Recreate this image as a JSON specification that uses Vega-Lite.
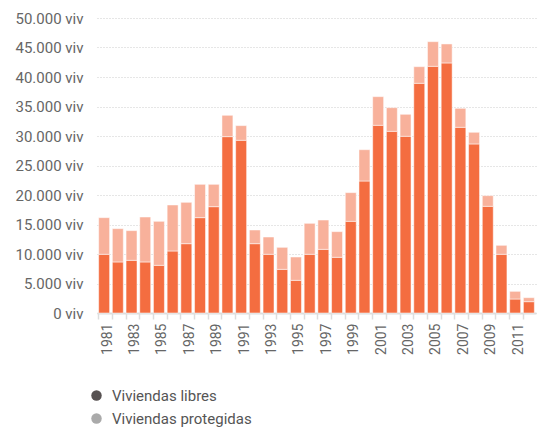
{
  "$schema": "https://vega.github.io/schema/vega-lite/v6.json",
  "width": 439,
  "height": 295,
  "autosize": {"type": "none"},
  "padding": {"left": 97, "top": 18, "right": 3, "bottom": 119},
  "config": {
    "font": "Roboto",
    "view": {"stroke": null},
    "background": "white"
  },
  "title": {
    "text": "Fuente: Ministerio de Fomento e INE",
    "orient": "bottom",
    "anchor": "start",
    "frame": "group",
    "dx": 193,
    "offset": 93,
    "fontSize": 15,
    "fontWeight": "normal",
    "color": "#666666",
    "baseline": "top"
  },
  "data": {
    "values": [
      {"year": "1981", "tipo": "Viviendas libres", "viv": 9950},
      {"year": "1982", "tipo": "Viviendas libres", "viv": 8650},
      {"year": "1983", "tipo": "Viviendas libres", "viv": 8930},
      {"year": "1984", "tipo": "Viviendas libres", "viv": 8650},
      {"year": "1985", "tipo": "Viviendas libres", "viv": 8080},
      {"year": "1986", "tipo": "Viviendas libres", "viv": 10510},
      {"year": "1987", "tipo": "Viviendas libres", "viv": 11750},
      {"year": "1988", "tipo": "Viviendas libres", "viv": 16160},
      {"year": "1989", "tipo": "Viviendas libres", "viv": 18020},
      {"year": "1990", "tipo": "Viviendas libres", "viv": 29890},
      {"year": "1991", "tipo": "Viviendas libres", "viv": 29270},
      {"year": "1992", "tipo": "Viviendas libres", "viv": 11750},
      {"year": "1993", "tipo": "Viviendas libres", "viv": 9950},
      {"year": "1994", "tipo": "Viviendas libres", "viv": 7400},
      {"year": "1995", "tipo": "Viviendas libres", "viv": 5540},
      {"year": "1996", "tipo": "Viviendas libres", "viv": 9950},
      {"year": "1997", "tipo": "Viviendas libres", "viv": 10790},
      {"year": "1998", "tipo": "Viviendas libres", "viv": 9440},
      {"year": "1999", "tipo": "Viviendas libres", "viv": 15540},
      {"year": "2000", "tipo": "Viviendas libres", "viv": 22370},
      {"year": "2001", "tipo": "Viviendas libres", "viv": 31810},
      {"year": "2002", "tipo": "Viviendas libres", "viv": 30790},
      {"year": "2003", "tipo": "Viviendas libres", "viv": 29950},
      {"year": "2004", "tipo": "Viviendas libres", "viv": 38930},
      {"year": "2005", "tipo": "Viviendas libres", "viv": 41810},
      {"year": "2006", "tipo": "Viviendas libres", "viv": 42380},
      {"year": "2007", "tipo": "Viviendas libres", "viv": 31470},
      {"year": "2008", "tipo": "Viviendas libres", "viv": 28650},
      {"year": "2009", "tipo": "Viviendas libres", "viv": 18080},
      {"year": "2010", "tipo": "Viviendas libres", "viv": 9950},
      {"year": "2011", "tipo": "Viviendas libres", "viv": 2370},
      {"year": "2012", "tipo": "Viviendas libres", "viv": 1920},
      {"year": "1981", "tipo": "Viviendas protegidas", "viv": 6210},
      {"year": "1982", "tipo": "Viviendas protegidas", "viv": 5650},
      {"year": "1983", "tipo": "Viviendas protegidas", "viv": 5030},
      {"year": "1984", "tipo": "Viviendas protegidas", "viv": 7620},
      {"year": "1985", "tipo": "Viviendas protegidas", "viv": 7460},
      {"year": "1986", "tipo": "Viviendas protegidas", "viv": 7800},
      {"year": "1987", "tipo": "Viviendas protegidas", "viv": 7010},
      {"year": "1988", "tipo": "Viviendas protegidas", "viv": 5650},
      {"year": "1989", "tipo": "Viviendas protegidas", "viv": 3790},
      {"year": "1990", "tipo": "Viviendas protegidas", "viv": 3620},
      {"year": "1991", "tipo": "Viviendas protegidas", "viv": 2490},
      {"year": "1992", "tipo": "Viviendas protegidas", "viv": 2320},
      {"year": "1993", "tipo": "Viviendas protegidas", "viv": 2930},
      {"year": "1994", "tipo": "Viviendas protegidas", "viv": 3730},
      {"year": "1995", "tipo": "Viviendas protegidas", "viv": 3950},
      {"year": "1996", "tipo": "Viviendas protegidas", "viv": 5250},
      {"year": "1997", "tipo": "Viviendas protegidas", "viv": 4970},
      {"year": "1998", "tipo": "Viviendas protegidas", "viv": 4350},
      {"year": "1999", "tipo": "Viviendas protegidas", "viv": 4860},
      {"year": "2000", "tipo": "Viviendas protegidas", "viv": 5310},
      {"year": "2001", "tipo": "Viviendas protegidas", "viv": 4860},
      {"year": "2002", "tipo": "Viviendas protegidas", "viv": 4010},
      {"year": "2003", "tipo": "Viviendas protegidas", "viv": 3730},
      {"year": "2004", "tipo": "Viviendas protegidas", "viv": 2820},
      {"year": "2005", "tipo": "Viviendas protegidas", "viv": 4180},
      {"year": "2006", "tipo": "Viviendas protegidas", "viv": 3220},
      {"year": "2007", "tipo": "Viviendas protegidas", "viv": 3220},
      {"year": "2008", "tipo": "Viviendas protegidas", "viv": 1980},
      {"year": "2009", "tipo": "Viviendas protegidas", "viv": 1810},
      {"year": "2010", "tipo": "Viviendas protegidas", "viv": 1520},
      {"year": "2011", "tipo": "Viviendas protegidas", "viv": 1300},
      {"year": "2012", "tipo": "Viviendas protegidas", "viv": 680}
    ]
  },
  "resolve": {"scale": {"color": "independent"}},
  "encoding": {
    "x": {
      "field": "year",
      "type": "ordinal",
      "scale": {"paddingInner": 0.2, "paddingOuter": 0.12},
      "axis": {
        "title": null,
        "labelAngle": -90,
        "labelFontSize": 14,
        "labelColor": "#666666",
        "labelExpr": "parseInt(datum.value) % 2 == 1 ? datum.value : ''",
        "bandPosition": 0,
        "labelOffset": 3.5,
        "tickColor": "#dddddd",
        "tickSize": 6,
        "tickWidth": 1.5,
        "domainColor": "#dddddd",
        "domainWidth": 2,
        "labelPadding": 4,
        "labelBound": false,
        "labelOverlap": false
      }
    },
    "y": {
      "field": "viv",
      "type": "quantitative",
      "aggregate": "sum",
      "scale": {"domain": [0, 50000], "nice": false},
      "axis": {
        "title": null,
        "values": [0, 5000, 10000, 15000, 20000, 25000, 30000, 35000, 40000, 45000, 50000],
        "labelExpr": "replace(format(datum.value, ','), ',', '.') + ' viv'",
        "labelFontSize": 15,
        "labelColor": "#666666",
        "labelPadding": 14,
        "labelOverlap": false,
        "domain": false,
        "ticks": false,
        "gridColor": "#cccccc",
        "gridDash": [1, 2],
        "gridWidth": 1
      }
    }
  },
  "layer": [
    {
      "mark": {"type": "bar", "stroke": "#ffffff", "strokeOpacity": 0.5, "strokeWidth": 1},
      "encoding": {
        "color": {
          "field": "tipo",
          "type": "nominal",
          "scale": {"domain": ["Viviendas libres", "Viviendas protegidas"], "range": ["#f46d40", "#f8b19b"]},
          "legend": null
        },
        "order": {"field": "tipo", "sort": "ascending"}
      }
    },
    {
      "mark": {"type": "point", "filled": true, "size": 0, "shape": "circle"},
      "encoding": {
        "color": {
          "field": "tipo",
          "type": "nominal",
          "scale": {"domain": ["Viviendas libres", "Viviendas protegidas"], "range": ["#575252", "#aaaaaa"]},
          "legend": {
            "title": null,
            "orient": "none",
            "legendX": -8,
            "legendY": 370,
            "direction": "vertical",
            "symbolType": "circle",
            "symbolSize": 110,
            "symbolStrokeWidth": 0,
            "symbolOpacity": 1,
            "labelFontSize": 15,
            "labelColor": "#555555",
            "labelOffset": 8,
            "rowPadding": 7
          }
        }
      }
    }
  ]
}
